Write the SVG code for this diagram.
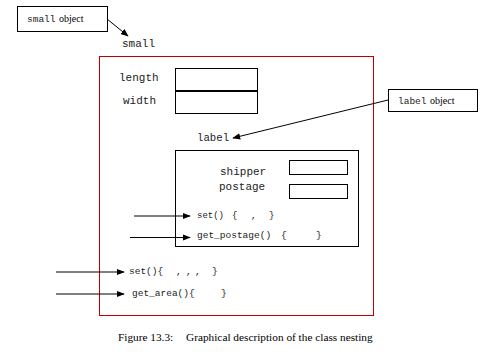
<svg xmlns="http://www.w3.org/2000/svg" width="485" height="357" viewBox="0 0 485 357">
<defs>
<style>
.box{fill:#fff;stroke:#000;stroke-width:1}
.mono{font-family:"Liberation Mono",monospace;fill:#222}
.ser{font-family:"Liberation Serif",serif;fill:#000}
.conn{stroke:#000;stroke-width:1;fill:none}
</style>
<marker id="ah" viewBox="0 0 10 10" refX="9" refY="5" markerWidth="8" markerHeight="8" orient="auto" markerUnits="userSpaceOnUse">
<path d="M0,1 L10,5 L0,9 z" fill="#000"/>
</marker>
</defs>
<rect width="485" height="357" fill="#fff"/>
<g id="small-object">
<rect class="box" x="17.5" y="6.5" width="90" height="25"/>
<text x="27" y="22" class="mono" font-size="9.5">small</text>
<text x="59" y="22" class="ser" font-size="10">object</text>
</g>
<g id="small">
<text x="122" y="47" class="mono" font-size="11">small</text>
<rect x="99.5" y="56.5" width="274" height="259" fill="none" stroke="#c00000" stroke-width="1"/>
</g>
<g id="fields">
<text x="119" y="81" class="mono" font-size="11">length</text>
<text x="123" y="104" class="mono" font-size="11">width</text>
<rect class="box" x="175.5" y="68.5" width="82" height="45"/>
<line x1="175.5" y1="91" x2="257.5" y2="91" stroke="#000" stroke-width="2"/>
</g>
<g id="label-object">
<rect class="box" x="388.5" y="89.5" width="89" height="22"/>
<text x="398" y="104" class="mono" font-size="9.5">label</text>
<text x="430" y="104" class="ser" font-size="10">object</text>
</g>
<g id="label">
<text x="197" y="141" class="mono" font-size="10.7">label</text>
<rect class="box" x="175.5" y="150.5" width="183" height="96"/>
<text x="220" y="175" class="mono" font-size="11">shipper</text>
<text x="219" y="190" class="mono" font-size="11">postage</text>
<rect class="box" x="289.5" y="160.5" width="58" height="14"/>
<rect class="box" x="289.5" y="184.5" width="58" height="14"/>
<text y="218" class="mono" font-size="9"><tspan x="197">set()</tspan><tspan x="232">{</tspan><tspan x="251">,</tspan><tspan x="269">}</tspan></text>
<text y="238" class="mono" font-size="9.5"><tspan x="197">get_postage()</tspan><tspan x="281">{</tspan><tspan x="316">}</tspan></text>
</g>
<g id="methods">
<text y="274" class="mono" font-size="9.5"><tspan x="129">set(){</tspan><tspan x="176">,</tspan><tspan x="186">,</tspan><tspan x="195">,</tspan><tspan x="212">}</tspan></text>
<text y="296" class="mono" font-size="9.5"><tspan x="132">get_area(){</tspan><tspan x="221">}</tspan></text>
</g>
<g id="connectors">
<line class="conn" x1="107" y1="19" x2="128" y2="36" marker-end="url(#ah)"/>
<line class="conn" x1="388" y1="100" x2="233" y2="138" marker-end="url(#ah)"/>
<line class="conn" x1="134" y1="216" x2="190" y2="216" marker-end="url(#ah)"/>
<line class="conn" x1="130" y1="237.5" x2="190" y2="237.5" marker-end="url(#ah)"/>
<line class="conn" x1="56" y1="272" x2="124" y2="272" marker-end="url(#ah)"/>
<line class="conn" x1="56" y1="294" x2="124" y2="294" marker-end="url(#ah)"/>
</g>
<text y="341" class="ser" font-size="11.3"><tspan x="118">Figure 13.3:</tspan><tspan x="186">Graphical description of the class nesting</tspan></text>
</svg>
